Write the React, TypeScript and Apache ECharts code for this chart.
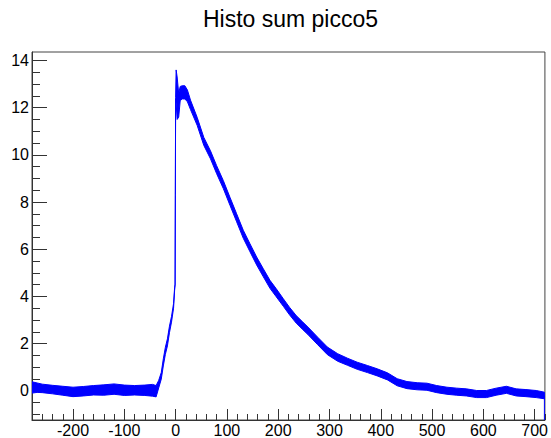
import React, { useEffect, useRef } from "react";
import * as echarts from "echarts";

const chartTitle = "Histo sum picco5";

// bin position (x), centre of the noisy band and its half thickness
const xs = [
  -280, -270, -260, -240, -220, -200, -180, -160, -140, -120, -100, -80, -60, -45, -38, -33, -28, -24, -20, -16,
  -12, -8, -4, -2, -1, -0.5, 0, 1, 3, 6, 9, 13, 18, 23, 29, 42, 55, 68, 80, 93,
  106, 119, 132, 145, 158, 171, 184, 196, 210, 222, 235, 248, 258, 277, 296, 316, 335, 354, 374, 393,
  413, 432, 451, 471, 490, 509, 529, 548, 567, 587, 606, 625, 645, 664, 683, 703, 719,
];
const centre = [
  0.14, 0.13, 0.1, 0.05, 0.0, -0.05, -0.02, 0.02, 0.03, 0.07, 0.02, 0.02, 0.02, 0.02, -0.02, 0.28, 0.63, 1.2, 1.69, 2.05,
  2.6, 3.03, 3.6, 4.3, 4.5, 8.3, 12.4, 12.9, 12.4, 12.1, 12.6, 12.65, 12.65, 12.5, 12.12, 11.42, 10.57, 10.0, 9.37, 8.74,
  8.03, 7.33, 6.63, 6.06, 5.5, 5.0, 4.51, 4.16, 3.74, 3.38, 3.03, 2.75, 2.54, 2.11, 1.69, 1.41, 1.23, 1.06, 0.92, 0.78,
  0.61, 0.36, 0.24, 0.19, 0.17, 0.07, 0.0, -0.04, -0.07, -0.14, -0.14, -0.04, 0.04, -0.07, -0.1, -0.14, -0.2,
];
const halfWidth = [
  0.24, 0.2, 0.18, 0.18, 0.19, 0.2, 0.2, 0.2, 0.22, 0.22, 0.22, 0.2, 0.22, 0.25, 0.24, 0.16, 0.14, 0.15, 0.15, 0.15,
  0.14, 0.12, 0.1, 0.06, 0.02, 0.02, 0.04, 0.7, 0.9, 0.5, 0.3, 0.28, 0.28, 0.25, 0.2, 0.17, 0.17, 0.17, 0.17, 0.17,
  0.17, 0.17, 0.17, 0.17, 0.17, 0.17, 0.17, 0.17, 0.16, 0.16, 0.16, 0.16, 0.16, 0.16, 0.16, 0.16, 0.15, 0.15, 0.15, 0.15,
  0.15, 0.15, 0.15, 0.15, 0.15, 0.15, 0.15, 0.15, 0.15, 0.15, 0.15, 0.15, 0.15, 0.15, 0.15, 0.15, 0.14,
];

const xRange = [-280, 720];
const yRange = [-1.24, 14.36];
const xTickValues = [-200, -100, 0, 100, 200, 300, 400, 500, 600, 700];
const yTickValues = [0, 2, 4, 6, 8, 10, 12, 14];
const xMinorValues = [
  -260, -240, -220, -180, -160, -140, -120, -80, -60, -40, -20, 20, 40, 60, 80, 120, 140, 160, 180,
  220, 240, 260, 280, 320, 340, 360, 380, 420, 440, 460, 480, 520, 540, 560, 580, 620, 640, 660, 680, 720,
];
const yMinorValues = [
  -1, -0.5, 0.5, 1, 1.5, 2.5, 3, 3.5, 4.5, 5, 5.5, 6.5, 7, 7.5, 8.5, 9, 9.5, 10.5, 11, 11.5, 12.5, 13, 13.5,
];

const FONT = "'Liberation Sans', Arial, sans-serif";
const AXIS_COLOR = "#333";
const BLUE = "#0000ff";

export default function App() {
  const ref = useRef<HTMLDivElement>(null);

  useEffect(() => {
    if (!ref.current) return;
    const chart = echarts.init(ref.current, null, { renderer: "svg" });
    const last = xs.length - 1;

    const baseX = {
      type: "value",
      min: xRange[0],
      max: xRange[1],
      position: "bottom",
      splitLine: { show: false },
    };
    const baseY = {
      type: "value",
      min: yRange[0],
      max: yRange[1],
      position: "left",
      splitLine: { show: false },
    };

    chart.setOption({
      animation: false,
      backgroundColor: "#fff",
      graphic: [
        {
          type: "text",
          x: 290.5,
          y: 19,
          style: {
            text: chartTitle,
            font: `23px ${FONT}`,
            fill: "#000",
            align: "center",
            verticalAlign: "middle",
          },
        },
      ],
      grid: {
        left: 32,
        top: 52,
        right: 2.5,
        bottom: 17,
        show: true,
        borderColor: "#444",
        borderWidth: 1,
        backgroundColor: "transparent",
      },
      xAxis: [
        {
          ...baseX,
          axisLine: { show: true, onZero: false, lineStyle: { color: AXIS_COLOR, width: 1 } },
          axisTick: {
            show: true,
            inside: true,
            length: 11,
            customValues: xTickValues,
            lineStyle: { color: AXIS_COLOR },
          },
          axisLabel: {
            customValues: xTickValues,
            margin: 2,
            fontSize: 16,
            fontFamily: FONT,
            color: "#000",
          },
        },
        {
          ...baseX,
          axisLine: { show: false, onZero: false },
          axisTick: {
            show: true,
            inside: true,
            length: 6,
            customValues: xMinorValues,
            lineStyle: { color: AXIS_COLOR },
          },
          axisLabel: { show: false },
        },
      ],
      yAxis: [
        {
          ...baseY,
          axisLine: { show: true, onZero: false, lineStyle: { color: AXIS_COLOR, width: 1 } },
          axisTick: {
            show: true,
            inside: true,
            length: 15,
            customValues: yTickValues,
            lineStyle: { color: AXIS_COLOR },
          },
          axisLabel: {
            customValues: yTickValues,
            margin: 3,
            fontSize: 16,
            fontFamily: FONT,
            color: "#000",
          },
        },
        {
          ...baseY,
          axisLine: { show: false, onZero: false },
          axisTick: {
            show: true,
            inside: true,
            length: 8,
            customValues: yMinorValues,
            lineStyle: { color: AXIS_COLOR },
          },
          axisLabel: { show: false },
        },
      ],
      series: [
        {
          type: "custom",
          xAxisIndex: 0,
          yAxisIndex: 0,
          silent: true,
          clip: true,
          data: [[0, 0]],
          renderItem: (_params: any, api: any) => {
            const upper = xs.map((x, i) => api.coord([x, centre[i] + halfWidth[i]]));
            const lower = xs.map((x, i) => api.coord([x, centre[i] - halfWidth[i]])).reverse();
            return {
              type: "polygon",
              shape: { points: upper.concat(lower) },
              style: { fill: BLUE, stroke: BLUE, lineWidth: 1 },
            };
          },
        },
        {
          type: "line",
          xAxisIndex: 0,
          yAxisIndex: 0,
          silent: true,
          symbol: "none",
          lineStyle: { color: BLUE, width: 1 },
          data: [
            [xs[last], centre[last]],
            [xs[last], yRange[0]],
          ],
        },
      ],
    });

    return () => chart.dispose();
  }, []);

  return (
    <div
      ref={ref}
      style={{ position: "fixed", left: 0, top: 0, width: 551, height: 438, background: "#fff" }}
    />
  );
}
